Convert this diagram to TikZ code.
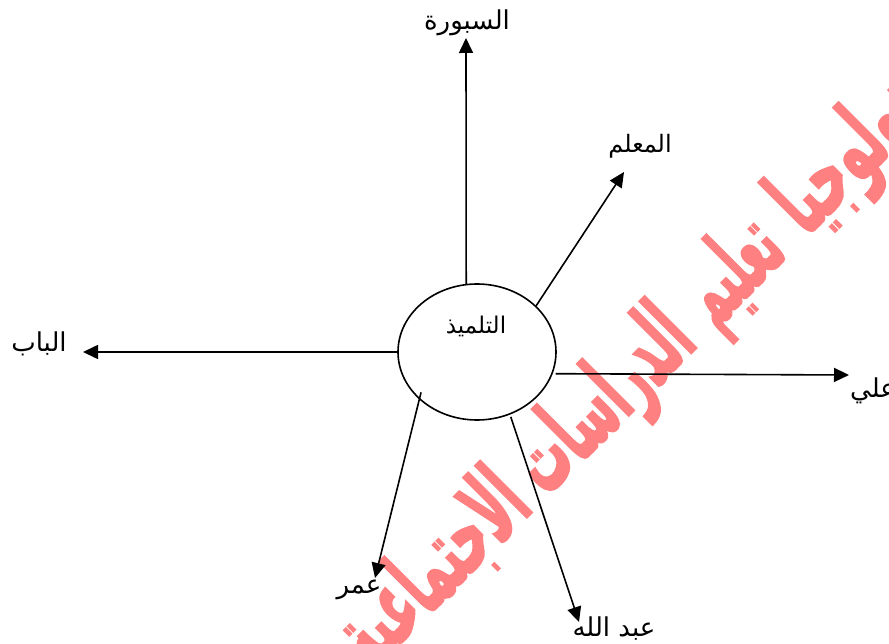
\documentclass[tikz,border=0pt]{standalone}
\usepackage{fontspec}
\usepackage{graphicx}
\usetikzlibrary{arrows.meta,shapes.geometric}
\TeXXeTstate=1
\newfontfamily\arabicfont[Script=Arabic]{DejaVu Sans}
\newfontfamily\arabicbold[Script=Arabic,FakeBold=2.5]{DejaVu Sans Bold}
\newcommand{\wmword}[2]{\resizebox*{#1pt}{115pt}{\arabicbold\rule[-0.4em]{0pt}{1.2em}\beginR #2\endR}}
\tikzset{
  x=1pt,y=-1pt,
  conn/.style={line width=1.6pt,-{Triangle[length=15pt,width=14pt]}},
  lab/.style={inner sep=0pt,font=\arabicfont\fontsize{26}{30}\selectfont},
  wm/.style={rotate=45,inner sep=0pt,text=red!50},
  center node/.style={draw,line width=1.6pt,ellipse,minimum width=158pt,minimum height=136pt,inner sep=0pt}
}
\begin{document}
\begin{tikzpicture}
\useasboundingbox (0,0) rectangle (889,644);
\begin{scope}
\clip (0,0) rectangle (889,644);
\node[wm] (w1) at (871,146) {\wmword{220}{تكنولوجيا}};
\node[wm] (w2) at (738.5,278.5) {\wmword{106}{تعليم}};
\node[wm] (w3) at (609.5,407.5) {\wmword{216}{الدراسات}};
\node[wm] (w4) at (440,577) {\wmword{230}{الاجتماعية}};
\end{scope}
\node[center node] (c) at (477,352) {};
\node[lab,font=\arabicfont\fontsize{23}{26}\selectfont] (ct) at (476,326) {\beginR التلميذ\endR};
\node[lab] (board) at (467,23) {\beginR السبورة\endR};
\node[lab,font=\arabicfont\fontsize{24}{28}\selectfont] (teacher) at (640,146) {\beginR المعلم\endR};
\node[lab] (door) at (39,344) {\beginR الباب\endR};
\node[lab,anchor=west] (ali) at (850,391) {\beginR علي\endR};
\node[lab] (omar) at (359,590) {\beginR عمر\endR};
\node[lab] (abd) at (614,629) {\beginR عبد الله\endR};
\coordinate (eb) at (466,38);
\coordinate (et) at (624,172);
\coordinate (ed) at (83,352);
\coordinate (ea) at (849,375);
\coordinate (eo) at (375,578);
\coordinate (eq) at (579,622);
\draw[conn] (c.99) -- (eb);
\draw[conn] (c.38) -- (et);
\draw[conn] (c.west) -- (ed);
\draw[conn] ([xshift=3pt]c.-16) -- (ea);
\draw[conn] ([xshift=6pt,yshift=3pt]c.-145) -- (eo);
\draw[conn] ([xshift=4pt,yshift=-1pt]c.-65) -- (eq);
\end{tikzpicture}
\end{document}
